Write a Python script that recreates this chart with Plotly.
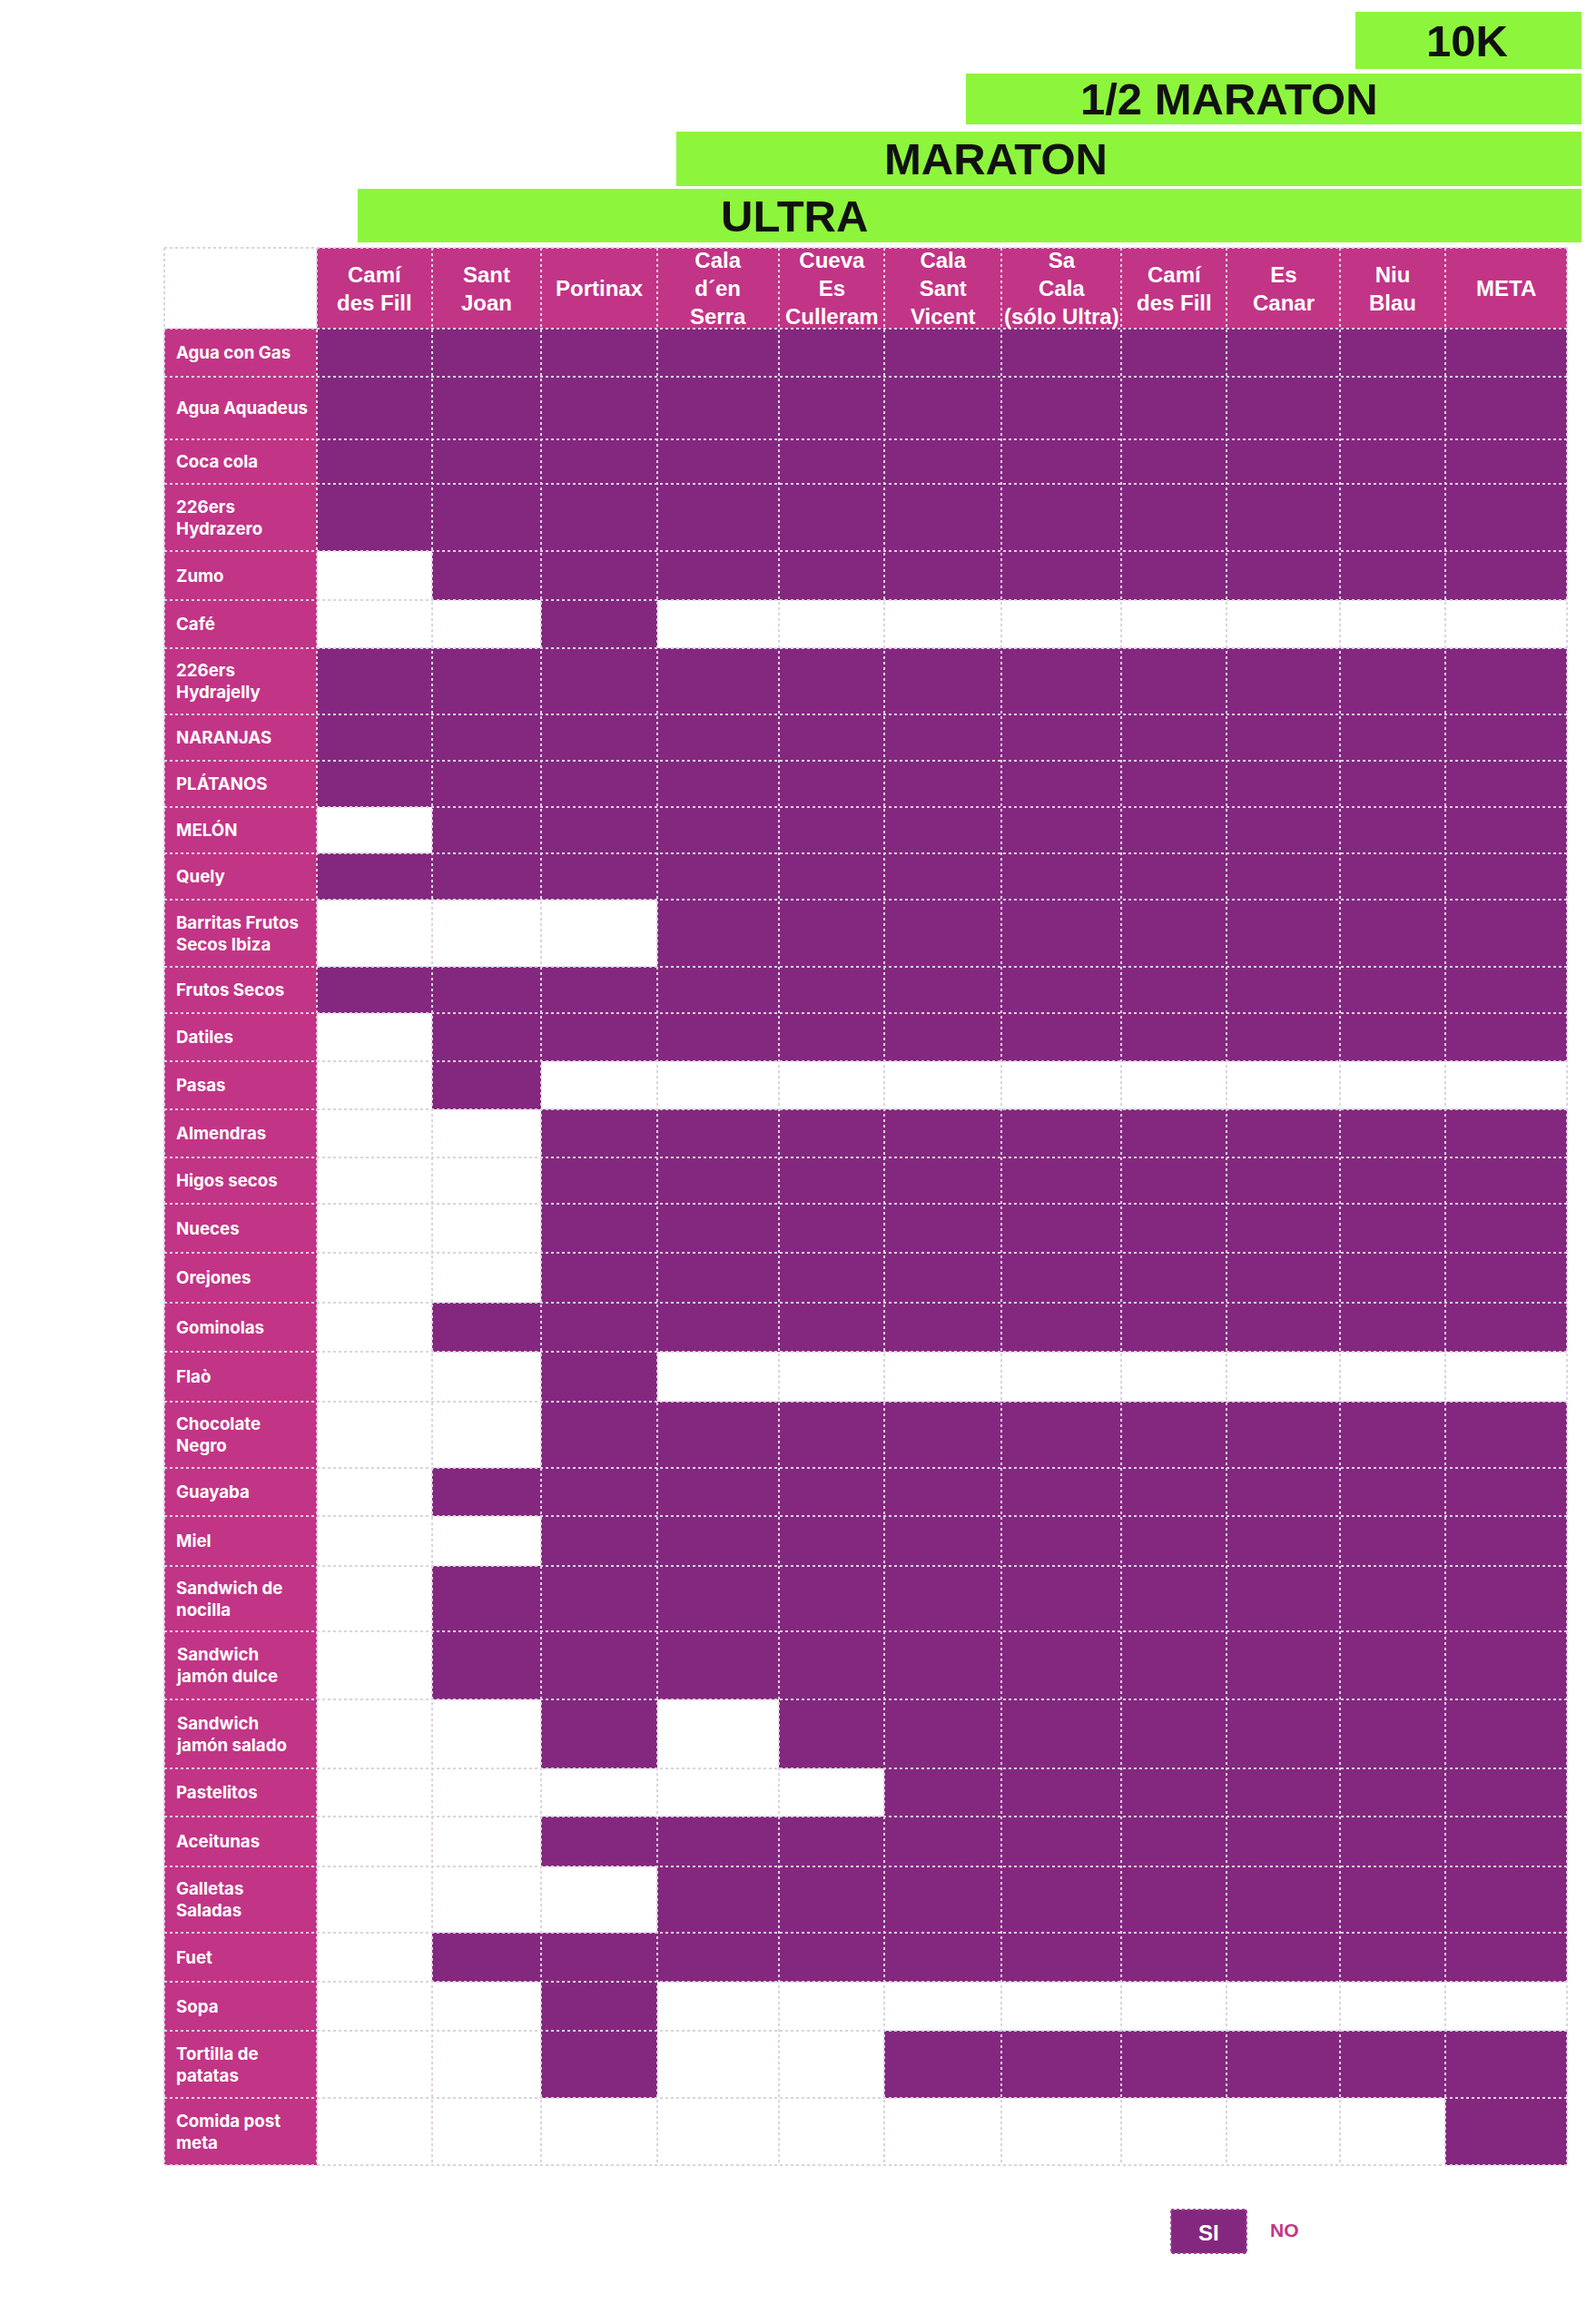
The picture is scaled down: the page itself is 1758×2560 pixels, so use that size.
import plotly.graph_objects as go

# ---------------- data ----------------
stations = ["Camí<br>des Fill", "Sant<br>Joan", "Portinax", "Cala<br>d´en<br>Serra",
            "Cueva<br>Es<br>Culleram", "Cala<br>Sant<br>Vicent", "Sa<br>Cala<br>(sólo Ultra)",
            "Camí<br>des Fill", "Es<br>Canar", "Niu<br>Blau", "META"]

items = ["Agua con Gas", "Agua Aquadeus", "Coca cola", "226ers<br>Hydrazero", "Zumo", "Café",
         "226ers<br>Hydrajelly", "NARANJAS", "PLÁTANOS", "MELÓN", "Quely",
         "Barritas Frutos<br>Secos Ibiza", "Frutos Secos", "Datiles", "Pasas", "Almendras",
         "Higos secos", "Nueces", "Orejones", "Gominolas", "Flaò", "Chocolate<br>Negro",
         "Guayaba", "Miel", "Sandwich de<br>nocilla", "Sandwich<br>jamón dulce",
         "Sandwich<br>jamón salado", "Pastelitos", "Aceitunas", "Galletas<br>Saladas", "Fuet",
         "Sopa", "Tortilla de<br>patatas", "Comida post<br>meta"]

# 1 = SI (available), 0 = NO
available = [
    [1, 1, 1, 1, 1, 1, 1, 1, 1, 1, 1],  # Agua con Gas
    [1, 1, 1, 1, 1, 1, 1, 1, 1, 1, 1],  # Agua Aquadeus
    [1, 1, 1, 1, 1, 1, 1, 1, 1, 1, 1],  # Coca cola
    [1, 1, 1, 1, 1, 1, 1, 1, 1, 1, 1],  # Hydrazero
    [0, 1, 1, 1, 1, 1, 1, 1, 1, 1, 1],  # Zumo
    [0, 0, 1, 0, 0, 0, 0, 0, 0, 0, 0],  # Café
    [1, 1, 1, 1, 1, 1, 1, 1, 1, 1, 1],  # Hydrajelly
    [1, 1, 1, 1, 1, 1, 1, 1, 1, 1, 1],  # NARANJAS
    [1, 1, 1, 1, 1, 1, 1, 1, 1, 1, 1],  # PLÁTANOS
    [0, 1, 1, 1, 1, 1, 1, 1, 1, 1, 1],  # MELÓN
    [1, 1, 1, 1, 1, 1, 1, 1, 1, 1, 1],  # Quely
    [0, 0, 0, 1, 1, 1, 1, 1, 1, 1, 1],  # Barritas
    [1, 1, 1, 1, 1, 1, 1, 1, 1, 1, 1],  # Frutos Secos
    [0, 1, 1, 1, 1, 1, 1, 1, 1, 1, 1],  # Datiles
    [0, 1, 0, 0, 0, 0, 0, 0, 0, 0, 0],  # Pasas
    [0, 0, 1, 1, 1, 1, 1, 1, 1, 1, 1],  # Almendras
    [0, 0, 1, 1, 1, 1, 1, 1, 1, 1, 1],  # Higos secos
    [0, 0, 1, 1, 1, 1, 1, 1, 1, 1, 1],  # Nueces
    [0, 0, 1, 1, 1, 1, 1, 1, 1, 1, 1],  # Orejones
    [0, 1, 1, 1, 1, 1, 1, 1, 1, 1, 1],  # Gominolas
    [0, 0, 1, 0, 0, 0, 0, 0, 0, 0, 0],  # Flaò
    [0, 0, 1, 1, 1, 1, 1, 1, 1, 1, 1],  # Chocolate Negro
    [0, 1, 1, 1, 1, 1, 1, 1, 1, 1, 1],  # Guayaba
    [0, 0, 1, 1, 1, 1, 1, 1, 1, 1, 1],  # Miel
    [0, 1, 1, 1, 1, 1, 1, 1, 1, 1, 1],  # Sandwich nocilla
    [0, 1, 1, 1, 1, 1, 1, 1, 1, 1, 1],  # Sandwich jamón dulce
    [0, 0, 1, 0, 1, 1, 1, 1, 1, 1, 1],  # Sandwich jamón salado
    [0, 0, 0, 0, 0, 1, 1, 1, 1, 1, 1],  # Pastelitos
    [0, 0, 1, 1, 1, 1, 1, 1, 1, 1, 1],  # Aceitunas
    [0, 0, 0, 1, 1, 1, 1, 1, 1, 1, 1],  # Galletas Saladas
    [0, 1, 1, 1, 1, 1, 1, 1, 1, 1, 1],  # Fuet
    [0, 0, 1, 0, 0, 0, 0, 0, 0, 0, 0],  # Sopa
    [0, 0, 1, 0, 0, 1, 1, 1, 1, 1, 1],  # Tortilla de patatas
    [0, 0, 0, 0, 0, 0, 0, 0, 0, 0, 1],  # Comida post meta
]

races = ["10K", "1/2 MARATON", "MARATON", "ULTRA"]
legend_labels = ["SI", "NO"]

# ---------------- layout (page pixels) ----------------
W, H = 1758, 2560
col_edges = [173, 341, 468, 588, 716, 850, 966, 1095, 1227, 1343, 1468, 1584, 1718]
row_edges = [265, 354, 407, 476, 525, 599, 653, 706, 779, 830, 881, 932, 983, 1057, 1108,
             1161, 1214, 1267, 1318, 1372, 1427, 1481, 1536, 1609, 1662, 1717, 1789, 1864,
             1940, 1993, 2048, 2121, 2175, 2229, 2303, 2377]
banner_left = [1485, 1056, 737, 386]
banner_right = 1734
banner_top = [5, 73, 137, 200]
banner_bottom = [68, 129, 197, 259]
banner_text_x = [1608, 1346, 1089, 867]

PURPLE = "#84287f"
MAGENTA = "#c23486"
GREEN = "#8ef53d"
GRID = "#dcd2e0"

# full grid: header row + label column around the availability matrix
z = [[0] + [2] * len(stations)]
for row in available:
    z.append([2] + row)

fig = go.Figure()

# green race banners
fig.add_trace(go.Bar(
    orientation="h",
    y=[(t + b) / 2 for t, b in zip(banner_top, banner_bottom)],
    base=banner_left,
    x=[banner_right - l for l in banner_left],
    width=[b - t for t, b in zip(banner_top, banner_bottom)],
    marker=dict(color=GREEN, line=dict(width=0)),
    hoverinfo="skip", showlegend=False,
))

# the table cells
fig.add_trace(go.Heatmap(
    z=z, x=col_edges, y=row_edges, zmin=0, zmax=2,
    colorscale=[[0, "#ffffff"], [0.333, "#ffffff"], [0.334, PURPLE], [0.666, PURPLE],
                [0.667, MAGENTA], [1, MAGENTA]],
    showscale=False, hoverinfo="skip", xgap=0, ygap=0,
))

# dotted grid lines
gx, gy = [], []
for y in row_edges:
    gx += [col_edges[0], col_edges[-1], None]
    gy += [y, y, None]
for x in col_edges:
    gx += [x, x, None]
    gy += [row_edges[0], row_edges[-1], None]
fig.add_trace(go.Scatter(x=gx, y=gy, mode="lines",
                         line=dict(color=GRID, width=2, dash="dot"),
                         hoverinfo="skip", showlegend=False))

annotations = []
for name, x, t, b in zip(races, banner_text_x, banner_top, banner_bottom):
    annotations.append(dict(x=x, y=(t + b) / 2, text=name, showarrow=False,
                            xanchor="center", yanchor="middle",
                            font=dict(family="Liberation Sans", size=49, color="#111111",
                                      weight="bold")))

for i, name in enumerate(stations):
    cx = (col_edges[i + 1] + col_edges[i + 2]) / 2
    annotations.append(dict(x=cx, y=(row_edges[0] + row_edges[1]) / 2, text=name,
                            showarrow=False, xanchor="center", yanchor="middle",
                            font=dict(family="Liberation Sans", size=24, color="white",
                                      weight="bold")))

for i, name in enumerate(items):
    cy = (row_edges[i + 1] + row_edges[i + 2]) / 2
    annotations.append(dict(x=col_edges[0] + 11, y=cy, text=name, showarrow=False,
                            xanchor="left", yanchor="middle", align="left",
                            font=dict(family="Inter", size=18.7, color="white",
                                      weight="bold")))

# legend
shapes = [dict(type="rect", xref="x", yref="y", x0=1282, x1=1365, y0=2426, y1=2474,
               fillcolor=PURPLE, line=dict(color="#9a4a96", width=2, dash="dot"))]
annotations.append(dict(x=1323, y=2451, text=legend_labels[0], showarrow=False,
                        font=dict(family="Liberation Sans", size=24, color="white",
                                  weight="bold")))
annotations.append(dict(x=1389, y=2448, text=legend_labels[1], showarrow=False,
                        xanchor="left",
                        font=dict(family="Liberation Sans", size=21, color=MAGENTA,
                                  weight="bold")))

fig.update_layout(
    width=W, height=H,
    margin=dict(l=0, r=0, t=0, b=0),
    paper_bgcolor="white", plot_bgcolor="white",
    xaxis=dict(range=[0, W], visible=False, fixedrange=True),
    yaxis=dict(range=[H, 0], visible=False, fixedrange=True),
    annotations=annotations, shapes=shapes,
    showlegend=False,
)

fig.write_html("out.html")
